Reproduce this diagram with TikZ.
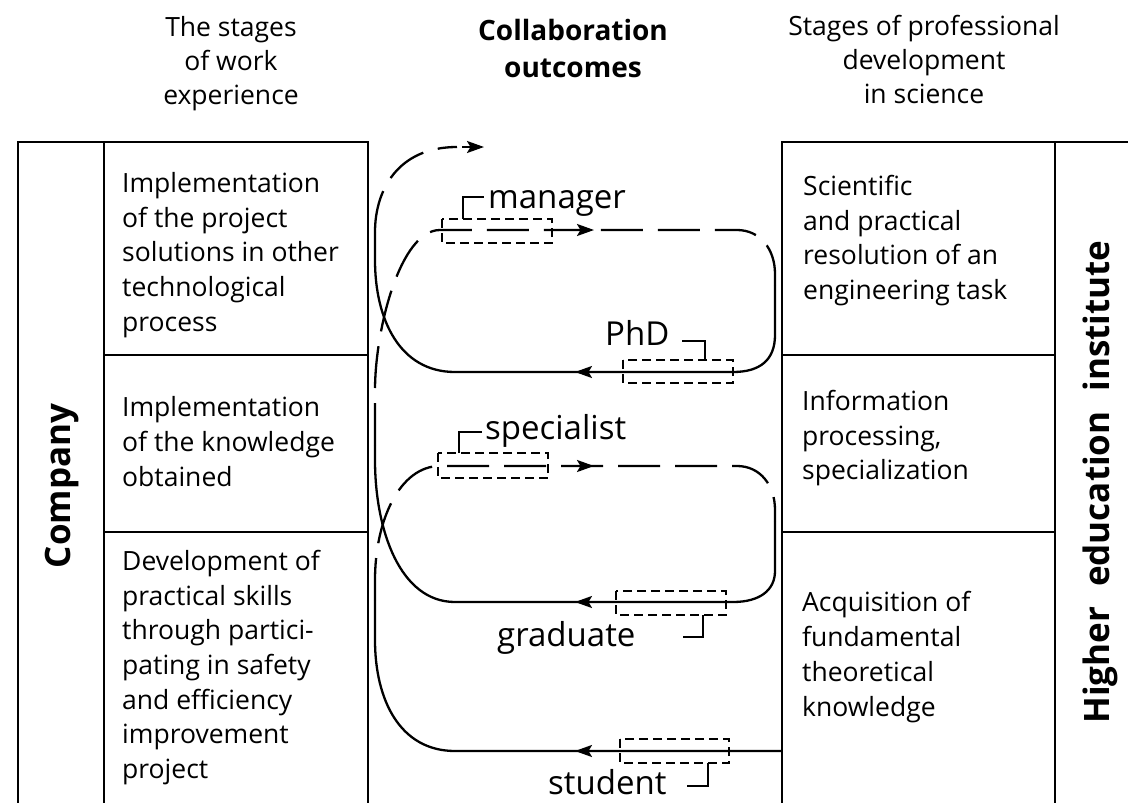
\documentclass[tikz,border=0pt]{standalone}
\usepackage{fontspec}
\setmainfont{Open Sans}
\usetikzlibrary{arrows.meta}
\begin{document}
\begin{tikzpicture}[x=1pt,y=-1pt,
  tablebox/.style={line width=2.6pt},
  sol/.style={line width=2.3pt},
  dsh/.style={line width=2.3pt, dash pattern=on 42pt off 15pt},
  tagbox/.style={line width=2.1pt, dash pattern=on 9pt off 5pt},
  brk/.style={line width=2.1pt},
  arr/.style={line width=2.3pt, -{Stealth[length=17pt,width=12pt,inset=3.5pt]}},
  boxtxt/.style={anchor=north west, inner sep=0pt, align=left, font=\fontsize{26.5}{34.7}\selectfont},
  hdr/.style={anchor=north, inner sep=0pt, align=center, font=\fontsize{26.5}{34.2}\selectfont},
  hdrb/.style={anchor=north, inner sep=0pt, align=center, font=\bfseries\fontsize{28}{37}\selectfont},
  rot/.style={rotate=90, inner sep=0pt, font=\bfseries\fontsize{35}{40}\selectfont},
  lbl/.style={anchor=base west, inner sep=0pt, font=\fontsize{33}{40}\selectfont}]
\useasboundingbox (0,0) rectangle (1128,803);

% ---- tables ----
\draw[tablebox] (18,803) -- (18,142) -- (368,142) -- (368,803);
\draw[tablebox] (104,142) -- (104,803);
\draw[tablebox] (104,355) -- (368,355);
\draw[tablebox] (104,532) -- (368,532);
\draw[tablebox] (782,803) -- (782,142) -- (1128,142);
\draw[tablebox] (1055,142) -- (1055,803);
\draw[tablebox] (782,355) -- (1055,355);
\draw[tablebox] (782,532) -- (1055,532);

% ---- headers ----
\node[hdr] (h1) at (231,16) {The stages\\of work\\experience};
\node[hdrb] (h2) at (573,19) {Collaboration\\outcomes};
\node[hdr] (h3) at (924,15) {Stages of professional\\development\\in science};

% ---- side labels ----
\node[rot] (comp) at (62,486) {Company};
\node[rot] (hei) at (1100,482) {Higher\hspace{20pt}education\hspace{20pt}institute};

% ---- box texts ----
\node[boxtxt] (l1) at (122,172) {Implementation\\of the project\\solutions in other\\technological\\process};
\node[boxtxt] (l2) at (122,396.6) {Implementation\\of the knowledge\\obtained};
\node[boxtxt] (l3) at (122,550) {Development of\\practical skills\\through partici-\\pating in safety\\and efficiency\\improvement\\project};
\node[boxtxt] (r1) at (803,175) {Scientific\\and practical\\resolution of an\\engineering task};
\node[boxtxt] (r2) at (802,390) {Information\\processing,\\specialization};
\node[boxtxt] (r3) at (802,591.5) {Acquisition of\\fundamental\\theoretical\\knowledge};

% ---- named points of the spiral ----
\coordinate (stuR) at (782,751);
\coordinate (stuL) at (455,751);
\coordinate (speL) at (440,466);
\coordinate (speR) at (737,466);
\coordinate (graR) at (733,602);
\coordinate (graL) at (455,602);
\coordinate (manL) at (440,230);
\coordinate (manR) at (737,230);
\coordinate (phdR) at (733,372);
\coordinate (phdL) at (455,372);
\coordinate (topE) at (457,147);

% student -> specialist -> graduate
\draw[sol] (stuR) -- (stuL) .. controls (400,751) and (375,700) .. (375,640) -- (375,600);
\draw[dsh] (375,600) -- (375,580) .. controls (375,520) and (400,466) .. (speL) -- (speR)
   .. controls (760,466) and (775,485) .. (775,510) -- (775,521);
\draw[sol] (775,521) -- (775,571) .. controls (775,590) and (760,602) .. (graR) -- (graL)
   .. controls (400,602) and (375,530) .. (375,460) -- (375,445);
% graduate -> manager -> PhD
\draw[dsh] (375,445) -- (375,390) .. controls (375,330) and (400,230) .. (manL) -- (manR)
   .. controls (760,230) and (775,249) .. (775,274) -- (775,285);
\draw[sol] (775,285) -- (775,335) .. controls (775,360) and (760,372) .. (phdR) -- (phdL)
   .. controls (400,372) and (375,320) .. (375,260) -- (375,232);
% PhD -> out
\draw[dsh] (375,232) .. controls (375,190) and (398,147) .. (topE);

% arrowheads
\draw[arr] (594,372) -- (575,372);
\draw[arr] (594,602) -- (575,602);
\draw[arr] (594,751) -- (575,751);
\draw[arr] (575,230) -- (594,230);
\draw[arr] (575,466) -- (594,466);
\draw[arr] (462,147) -- (484,147);

% ---- dashed tags with brackets and labels ----
\draw[tagbox] (442,219) rectangle (552,243);
\draw[brk] (463,219) -- (463,197) -- (484,197);
\node[lbl] (man) at (488,208) {manager};

\draw[tagbox] (623,360) rectangle (733,383);
\draw[brk] (705,360) -- (705,341) -- (682,341);
\node[lbl] (phd) at (605,345) {PhD};

\draw[tagbox] (438,453) rectangle (548,478);
\draw[brk] (459,453) -- (459,432) -- (482,432);
\node[lbl] (spe) at (485,439) {specialist};

\draw[tagbox] (616,591) rectangle (726,615);
\draw[brk] (703,615) -- (703,637) -- (683,637);
\node[lbl] (gra) at (497,646) {graduate};

\draw[tagbox] (620,739) rectangle (729,763);
\draw[brk] (708,763) -- (708,786) -- (687,786);
\node[lbl] (stu) at (548,794) {student};
\end{tikzpicture}
\end{document}
